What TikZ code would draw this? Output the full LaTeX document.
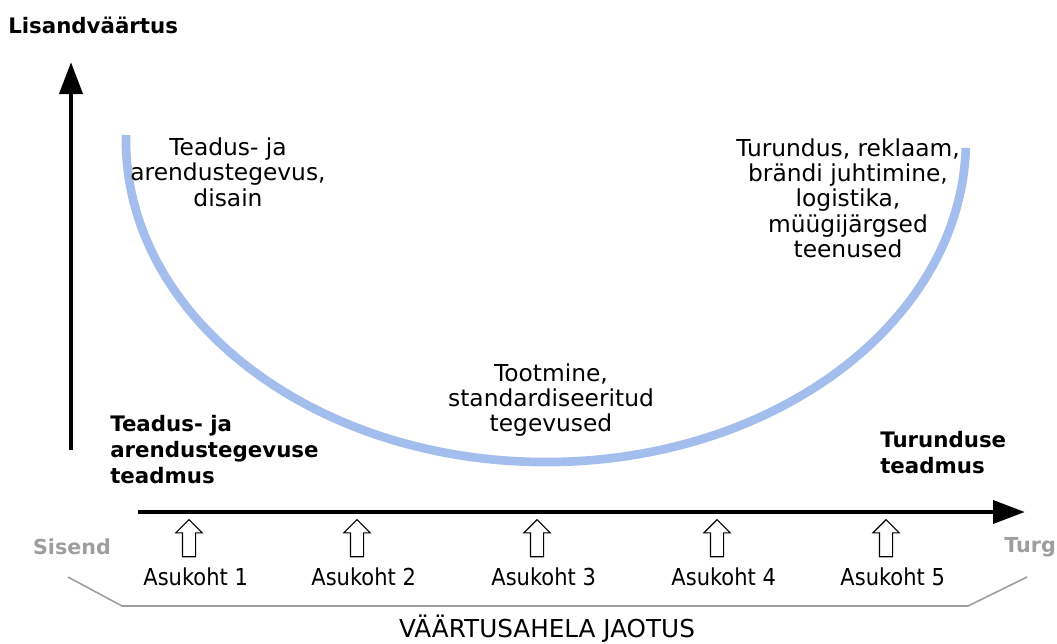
\documentclass[tikz,border=0pt]{standalone}
\usepackage{fontspec}
\setmainfont{DejaVu Sans}
\newfontfamily\narrowfont[FakeStretch=0.9]{DejaVu Sans}
\usetikzlibrary{positioning,arrows.meta,shapes.arrows}
\definecolor{ucurve}{RGB}{163,190,236}
\definecolor{sidegray}{RGB}{158,158,158}

\begin{document}
\begin{tikzpicture}[x=0.75pt, y=-0.75pt,
    every node/.style={font=\fontsize{15.5}{19}\selectfont, inner sep=0pt},
    axis/.style={line width=3.6pt, -{Triangle[length=24pt,width=17pt]}},
    knowhow/.style={font=\fontsize{16}{19.5}\selectfont\bfseries, align=left, anchor=west},
    activity/.style={font=\fontsize{17.5}{19}\selectfont, align=center},
    sidelabel/.style={font=\fontsize{15.5}{19}\selectfont\bfseries, text=sidegray},
    location/.style={font=\narrowfont\fontsize{17.5}{19}\selectfont},
    uparrow/.style={draw, single arrow, shape border rotate=90, line width=0.8pt,
        inner sep=4.5pt, single arrow head extend=5pt, minimum height=27.75pt}]
  \useasboundingbox (0,0) rectangle (1057,643);

  % axes
  \node[font=\fontsize{16}{19}\selectfont\bfseries, anchor=west] (yname) at (8,25) {Lisandväärtus};
  \coordinate (ybottom) at (71,450);
  \coordinate (ytop) at (71,62);
  \coordinate (xleft) at (138,512);
  \coordinate (xright) at (1025,512);
  \draw[axis] (ybottom) -- (ytop);
  \draw[axis] (xleft) -- (xright);

  % smile curve
  \draw[ucurve, line width=6.5pt] (126,135) arc[start angle=180.9, end angle=1.4, x radius=420, y radius=322];

  \node[activity] (rnd) at (228,172) {Teadus- ja\\arendustegevus,\\disain};
  \node[activity] (mkt) at (848,198) {Turundus, reklaam,\\brändi juhtimine,\\logistika,\\müügijärgsed\\teenused};
  \node[activity] (prod) at (551,400) {Tootmine,\\standardiseeritud\\tegevused};

  \node[knowhow] (rndknow) at (110,450) {Teadus- ja\\arendustegevuse\\teadmus};
  \node[knowhow] (mktknow) at (880,453) {Turunduse\\teadmus};

  \node[sidelabel] (input) at (72,547) {Sisend};
  \node[sidelabel, anchor=west] (market) at (1004,547) {Turg};

  % locations
  \foreach \i/\x in {1/189, 2/357, 3/537, 4/717, 5/886} {
    \node[uparrow] (up\i) at (\x,541.5) {};
    \node[location, below=8pt of up\i, xshift=5pt] (loc\i) {Asukoht \i};
  }

  % bracket
  \draw[sidegray, line width=1.2pt] (68,577) -- (122,606) -- (968,606) -- (1027,577);
  \node[font=\fontsize{18.5}{20}\selectfont] (chain) at (547,629) {VÄÄRTUSAHELA JAOTUS};
\end{tikzpicture}
\end{document}
